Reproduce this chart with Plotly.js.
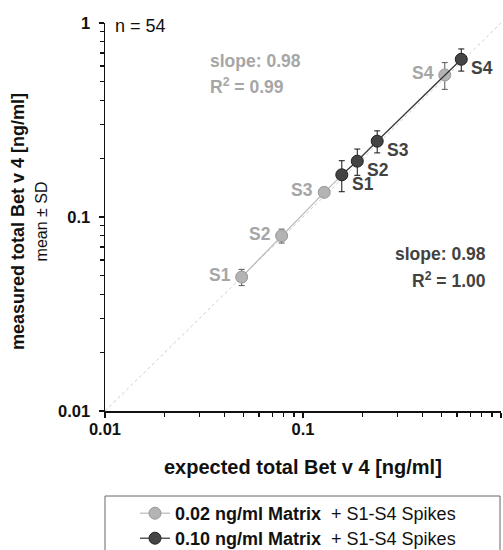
<!DOCTYPE html>
<html><head><meta charset="utf-8">
<script src="https://cdn.plot.ly/plotly-3.0.1.min.js"></script>
<style>body{margin:0;background:#fff}</style>
</head><body><div id="chart" style="width:503px;height:550px"></div>
<script>
const spikes = ["S1", "S2", "S3", "S4"];
const lowExpected = [0.049, 0.078, 0.128, 0.52];
const lowMeasured = [0.049, 0.080, 0.134, 0.54];
const lowSD = [0.0047, 0.0066, 0.005, 0.085];
const highExpected = [0.157, 0.188, 0.237, 0.63];
const highMeasured = [0.165, 0.194, 0.246, 0.65];
const highSD = [0.03, 0.03, 0.032, 0.085];
const axisRange = [0.01, 1];
const majorTicks = [0.01, 0.1, 1];
const majorLabels = ["0.01", "0.1", "1"];
const minorTicks = [0.02, 0.03, 0.04, 0.05, 0.06, 0.07, 0.08, 0.09, 0.2, 0.3, 0.4, 0.5, 0.6, 0.7, 0.8, 0.9];
const lowName = "<b>0.02 ng/ml Matrix</b>\u00a0\u00a0+ S1-S4 Spikes";
const highName = "<b>0.10 ng/ml Matrix</b>\u00a0\u00a0+ S1-S4 Spikes";
const lowStats = ["slope: 0.98", "R<sup>2</sup> = 0.99"];
const highStats = ["slope: 0.98", "R<sup>2</sup> = 1.00"];
const nText = "n = 54";
const xTitle = "expected total Bet v 4 [ng/ml]";
const yTitle = "measured total Bet v 4 [ng/ml]";
const ySubTitle = "mean ± SD";

const FONT = "Liberation Sans, Arial, sans-serif";
const LIGHT = "#a6a6a6";
const DARK = "#424242";
const TXT = 17.5;

const traces = [
  {x: axisRange, y: axisRange, mode: "lines", showlegend: false, hoverinfo: "skip",
   line: {color: "#cccccc", width: 1, dash: "dot"}},
  {x: lowExpected, y: lowMeasured, name: lowName, mode: "lines+markers", legend: "legend",
   line: {color: "#b8b8b8", width: 1.2},
   marker: {size: 12, color: "#b4b4b4", line: {color: "#979797", width: 1}},
   error_y: {type: "data", array: lowSD, color: "#555", thickness: 1, width: 3}},
  {x: highExpected, y: highMeasured, name: highName, mode: "lines+markers", legend: "legend2",
   line: {color: "#333", width: 1.2},
   marker: {size: 12, color: "#444", line: {color: "#222", width: 1}},
   error_y: {type: "data", array: highSD, color: "#111", thickness: 1, width: 3}}
];

const ann = [];
spikes.forEach((s, i) => {
  ann.push({x: Math.log10(lowExpected[i]), y: Math.log10(lowMeasured[i]), xref: "x", yref: "y",
    text: "<b>" + s + "</b>", showarrow: false, xanchor: "right", yanchor: "middle",
    xshift: -9, yshift: 2, font: {family: FONT, size: TXT, color: LIGHT}});
  ann.push({x: Math.log10(highExpected[i]), y: Math.log10(highMeasured[i]), xref: "x", yref: "y",
    text: "<b>" + s + "</b>", showarrow: false, xanchor: "left", yanchor: "middle",
    xshift: 8, yshift: -9, font: {family: FONT, size: TXT, color: DARK}});
});
// paper coordinate helpers: plot area x 105..501, y 23..411
const px = p => (p - 105) / 396;
const py = p => (411 - p) / 388;
ann.push({x: px(208), y: py(61), xref: "paper", yref: "paper", xanchor: "left", yanchor: "middle",
  text: "<b>" + lowStats[0] + "</b>", showarrow: false, font: {family: FONT, size: TXT, color: LIGHT}});
ann.push({x: px(208), y: py(86), xref: "paper", yref: "paper", xanchor: "left", yanchor: "middle",
  text: "<b>" + lowStats[1] + "</b>", showarrow: false, font: {family: FONT, size: TXT, color: LIGHT}});
ann.push({x: px(488), y: py(254), xref: "paper", yref: "paper", xanchor: "right", yanchor: "middle",
  text: "<b>" + highStats[0] + "</b>", showarrow: false, font: {family: FONT, size: TXT, color: DARK}});
ann.push({x: px(488), y: py(280), xref: "paper", yref: "paper", xanchor: "right", yanchor: "middle",
  text: "<b>" + highStats[1] + "</b>", showarrow: false, font: {family: FONT, size: TXT, color: DARK}});
ann.push({x: px(113), y: py(26), xref: "paper", yref: "paper", xanchor: "left", yanchor: "middle",
  text: nText, showarrow: false, font: {family: FONT, size: 18, color: "#111"}});
ann.push({x: px(303), y: py(467), xref: "paper", yref: "paper", xanchor: "center", yanchor: "middle",
  text: "<b>" + xTitle + "</b>", showarrow: false, font: {family: FONT, size: 20, color: "#111"}});
ann.push({x: px(29), y: py(222), xref: "paper", yref: "paper", xanchor: "center", yanchor: "middle",
  textangle: -90, showarrow: false,
  text: "<b>" + yTitle + "</b><br><span style='font-size:16px'>" + ySubTitle + "</span>",
  font: {family: FONT, size: 18, color: "#111"}});

function axis() {
  return {
    type: "log", range: [Math.log10(axisRange[0]), Math.log10(axisRange[1])],
    tickmode: "array", tickvals: majorTicks, ticktext: majorLabels,
    ticks: "outside", ticklen: 5, tickwidth: 1.5, tickcolor: "#111",
    tickfont: {family: FONT, size: 16.5, color: "#111", weight: "bold"},
    showline: true, linecolor: "#111", linewidth: 1.5,
    showgrid: false, zeroline: false, fixedrange: true, automargin: false,
    minor: {tickmode: "array", tickvals: minorTicks, ticks: "outside", ticklen: 4, tickwidth: 1.2, tickcolor: "#111", showgrid: false}
  };
}
const xa = axis(); xa.ticklabelstandoff = -2;
const ya = axis(); ya.ticklabelstandoff = 5;

function legendAt(rowCenter) {
  return {xref: "container", yref: "container", x: 135 / 503, y: 1 - (rowCenter - 18) / 550,
    xanchor: "left", yanchor: "top", bgcolor: "rgba(0,0,0,0)", borderwidth: 0,
    font: {family: FONT, size: 18, color: "#111"}};
}

const layout = {
  width: 503, height: 550,
  margin: {l: 105, r: 2, t: 23, b: 139, autoexpand: false},
  paper_bgcolor: "#fff", plot_bgcolor: "#fff",
  font: {family: FONT, color: "#111"},
  xaxis: xa, yaxis: ya,
  showlegend: true,
  legend: legendAt(513),
  legend2: legendAt(538),
  shapes: [{type: "rect", xref: "paper", yref: "paper", x0: px(105), x1: px(500), y0: py(496), y1: py(560),
    line: {color: "#666", width: 1}, fillcolor: "rgba(0,0,0,0)"}],
  annotations: ann
};
Plotly.newPlot("chart", traces, layout, {displayModeBar: false, staticPlot: true});
</script></body></html>
